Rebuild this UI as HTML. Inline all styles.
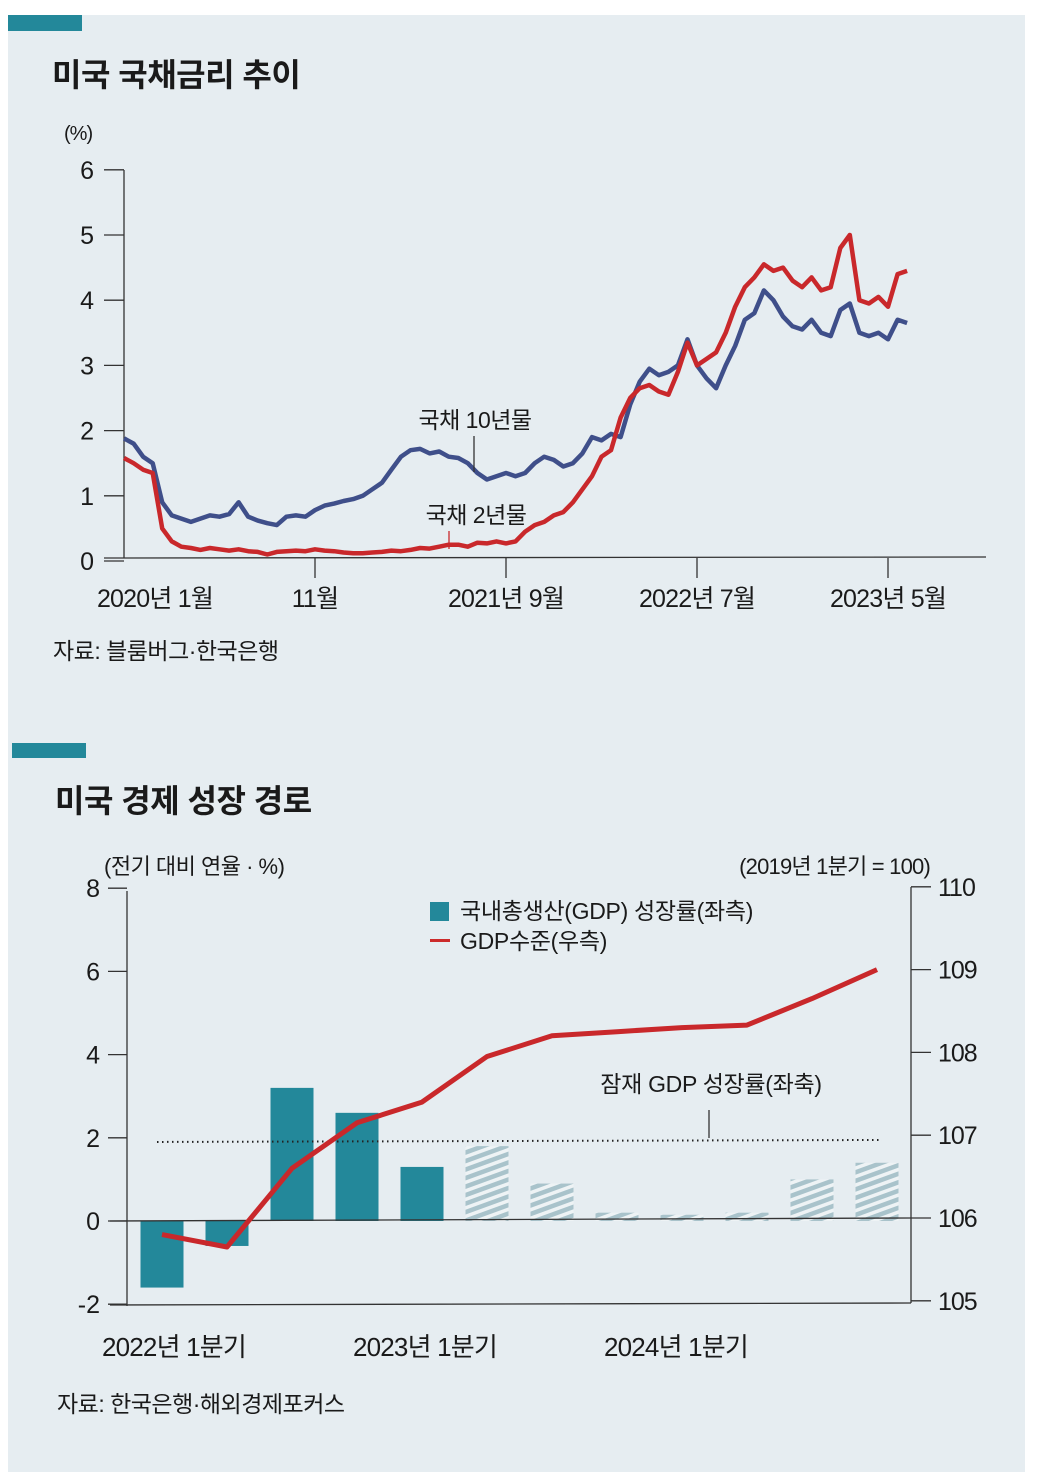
<!DOCTYPE html>
<html><head><meta charset="utf-8"><style>
html,body{margin:0;padding:0;background:#fff;}
svg{display:block;}
text{font-family:"Liberation Sans","Noto Sans CJK KR",sans-serif;fill:#1a1a1a;}
</style></head><body>
<svg id="s" width="1038" height="1484" viewBox="0 0 1038 1484" xmlns="http://www.w3.org/2000/svg">
<defs>
<pattern id="hatch" patternUnits="userSpaceOnUse" width="8" height="8" patternTransform="rotate(-20)">
<rect width="8" height="8" fill="#eef3f5"/><rect width="8" height="4.5" fill="#a9c3cb"/>
</pattern>
</defs>
<rect x="8" y="15" width="1017" height="1457" fill="#e6edf1"/>
<rect x="8" y="15" width="74" height="16" fill="#23889a"/>
<rect x="12" y="743" width="74" height="15" fill="#23889a"/>
<text x="52" y="86" font-size="32" font-weight="bold" letter-spacing="-0.5">미국 국채금리 추이</text>
<text x="64" y="140" font-size="20" letter-spacing="-1">(%)</text>
<g id="c1"></g>
<text x="53" y="659" font-size="23" letter-spacing="-0.5">자료: 블룸버그·한국은행</text>
<text x="55" y="812" font-size="32" font-weight="bold" letter-spacing="-0.5">미국 경제 성장 경로</text>
<text x="104" y="874" font-size="22" letter-spacing="-0.5">(전기 대비 연율 · %)</text>
<text x="930" y="874" font-size="22" letter-spacing="-0.8" text-anchor="end">(2019년 1분기 = 100)</text>
<g id="c2"></g>
<rect x="430" y="902" width="19" height="19" fill="#23889a"/>
<text x="460" y="919" font-size="23" letter-spacing="-0.3">국내총생산(GDP) 성장률(좌측)</text>
<rect x="430" y="939" width="20" height="3" fill="#cc2b2b"/>
<text x="460" y="949" font-size="23" letter-spacing="-0.3">GDP수준(우측)</text>
<text x="57" y="1412" font-size="23" letter-spacing="-0.5">자료: 한국은행·해외경제포커스</text>
<script>
// ---------- Chart 1: US Treasury yields (semi-monthly from 2020-01) ----------
const y10 = [1.88,1.8,1.6,1.5,0.9,0.7,0.65,0.6,0.65,0.7,0.68,0.72,0.9,0.68,0.62,0.58,0.55,0.68,0.7,0.68,0.78,0.85,0.88,0.92,0.95,1.0,1.1,1.2,1.4,1.6,1.7,1.72,1.65,1.68,1.6,1.58,1.5,1.35,1.25,1.3,1.35,1.3,1.35,1.5,1.6,1.55,1.45,1.5,1.65,1.9,1.85,1.95,1.9,2.4,2.75,2.95,2.85,2.9,3.0,3.4,3.0,2.8,2.65,3.0,3.3,3.7,3.8,4.15,4.0,3.75,3.6,3.55,3.7,3.5,3.45,3.85,3.95,3.5,3.45,3.5,3.4,3.7,3.65];
const y2 = [1.58,1.5,1.4,1.35,0.5,0.3,0.22,0.2,0.17,0.2,0.18,0.16,0.18,0.15,0.14,0.1,0.14,0.15,0.16,0.15,0.18,0.16,0.15,0.13,0.12,0.12,0.13,0.14,0.16,0.15,0.17,0.2,0.19,0.22,0.25,0.25,0.22,0.28,0.27,0.3,0.27,0.3,0.45,0.55,0.6,0.7,0.75,0.9,1.1,1.3,1.6,1.7,2.2,2.5,2.65,2.7,2.6,2.55,2.9,3.35,3.0,3.1,3.2,3.5,3.9,4.2,4.35,4.55,4.45,4.5,4.3,4.2,4.35,4.15,4.2,4.8,5.0,4.0,3.95,4.05,3.9,4.4,4.45];
const yTicks1 = [0,1,2,3,4,5,6];
const xTickMonths = [0,10,20,30,40];
const xTickLabels = ["2020년 1월","11월","2021년 9월","2022년 7월","2023년 5월"];

// ---------- Chart 2: US growth path ----------
const quarters = ["2022Q1","2022Q2","2022Q3","2022Q4","2023Q1","2023Q2","2023Q3","2023Q4","2024Q1","2024Q2","2024Q3","2024Q4"];
const growth = [-1.6,-0.6,3.2,2.6,1.3,1.8,0.9,0.2,0.15,0.2,1.0,1.4];
const isForecast = [false,false,false,false,false,true,true,true,true,true,true,true];
const gdpLevel = [105.8,105.65,106.6,107.15,107.4,107.95,108.2,108.25,108.3,108.33,108.65,109.0];
const potential = 1.9;
const yTicksL = [-2,0,2,4,6,8];
const yTicksR = [105,106,107,108,109,110];
const qLabels = ["2022년  1분기","2023년  1분기","2024년  1분기"];
const qLabelIdx = [0,4,8];

const NS="http://www.w3.org/2000/svg";
function mk(parent,tag,attrs,txt){const e=document.createElementNS(NS,tag);for(const k in attrs)e.setAttribute(k,attrs[k]);if(txt!==undefined)e.textContent=txt;parent.appendChild(e);return e;}

// chart1
const c1=document.getElementById('c1');
const x1=m=>124+m*19.1;
const v1=v=>561-v*65.2;
let e;
e=mk(c1,'line',{x1:124,y1:170,x2:124,y2:558,stroke:'#333','stroke-width':1.3});


e=mk(c1,'line',{x1:104,y1:558,x2:986,y2:557,stroke:'#333','stroke-width':1.3});


yTicks1.forEach(t=>{
  e=mk(c1,'line',{x1:104,y1:v1(t),x2:124,y2:v1(t),stroke:'#333','stroke-width':1.3});
  
  
  e=mk(c1,'text',{x:94,y:v1(t)+9,'font-size':25,'text-anchor':'end'},String(t));
  
  
});
xTickMonths.forEach((m,i)=>{
  if(m>0){e=mk(c1,'line',{x1:x1(m),y1:558,x2:x1(m),y2:578,stroke:'#333','stroke-width':1.3});
  
  }
  const cx = m===0?155:x1(m);
  e=mk(c1,'text',{x:cx,y:607,'font-size':25,'text-anchor':'middle','letter-spacing':-0.8},xTickLabels[i]);
  
  
});
function pathOf(arr){return arr.map((v,i)=>(i?'L':'M')+x1(i/2).toFixed(1)+','+v1(v).toFixed(1)).join('');}
e=mk(c1,'path',{d:pathOf(y10),fill:'none',stroke:'#3f4f8a','stroke-width':4.5,'stroke-linejoin':'round'});


e=mk(c1,'path',{d:pathOf(y2),fill:'none',stroke:'#c9282b','stroke-width':4.5,'stroke-linejoin':'round'});


e=mk(c1,'line',{x1:474,y1:436,x2:474,y2:472,stroke:'#333','stroke-width':1.3});


e=mk(c1,'text',{x:475,y:428,'font-size':23,'text-anchor':'middle','letter-spacing':-0.5},'국채 10년물');


e=mk(c1,'line',{x1:449,y1:531,x2:449,y2:549,stroke:'#c9282b','stroke-width':1.3});


e=mk(c1,'text',{x:476,y:523,'font-size':23,'text-anchor':'middle','letter-spacing':-0.5},'국채 2년물');



// chart2
const c2=document.getElementById('c2');
const xq=i=>162+i*65;
const vl=v=>1221-v*41.6;
const vr=v=>1218-(v-106)*82.8;
e=mk(c2,'line',{x1:127,y1:891,x2:127,y2:1306,stroke:'#333','stroke-width':1.3});


e=mk(c2,'line',{x1:911,y1:887,x2:911,y2:1303,stroke:'#333','stroke-width':1.3});


e=mk(c2,'line',{x1:110,y1:1305,x2:911,y2:1303,stroke:'#333','stroke-width':1.3});


yTicksL.forEach(t=>{
  e=mk(c2,'line',{x1:108,y1:vl(t),x2:127,y2:vl(t),stroke:'#333','stroke-width':1.3});
  
  
  e=mk(c2,'text',{x:100,y:vl(t)+9,'font-size':25,'text-anchor':'end'},String(t));
  
  
});
yTicksR.forEach(t=>{
  e=mk(c2,'line',{x1:911,y1:vr(t),x2:931,y2:vr(t),stroke:'#333','stroke-width':1.3});
  
  
  e=mk(c2,'text',{x:938,y:vr(t)+9,'font-size':25,'letter-spacing':-1},String(t));
  
  
});
growth.forEach((g,i)=>{
  const y0=vl(0), y1=vl(g);
  e=mk(c2,'rect',{x:xq(i)-21.5,y:Math.min(y0,y1),width:43,height:Math.abs(y1-y0),fill:isForecast[i]?'url(#hatch)':'#23889a'});
  
  
});
e=mk(c2,'line',{x1:110,y1:vl(0),x2:911,y2:vl(0)-3,stroke:'#333','stroke-width':1.3});


e=mk(c2,'line',{x1:157,y1:vl(potential),x2:882,y2:vl(potential)-2,stroke:'#222','stroke-width':2,'stroke-dasharray':'1.5 3.5'});


e=mk(c2,'line',{x1:709,y1:1110,x2:709,y2:1138,stroke:'#333','stroke-width':1.3});


e=mk(c2,'text',{x:711,y:1092,'font-size':23,'text-anchor':'middle','letter-spacing':-0.3},'잠재 GDP 성장률(좌축)');


e=mk(c2,'path',{d:gdpLevel.map((v,i)=>(i?'L':'M')+xq(i)+','+vr(v).toFixed(1)).join(''),fill:'none',stroke:'#c9282b','stroke-width':5,'stroke-linejoin':'round'});


qLabelIdx.forEach((qi,k)=>{
  const lx = 174 + (xq(qi)-xq(0))*251/260;
  e=mk(c2,'text',{x:lx,y:1356,'font-size':26,'text-anchor':'middle','letter-spacing':-0.8},qLabels[k]);
  
  
});
</script>
</svg>
</body></html>
